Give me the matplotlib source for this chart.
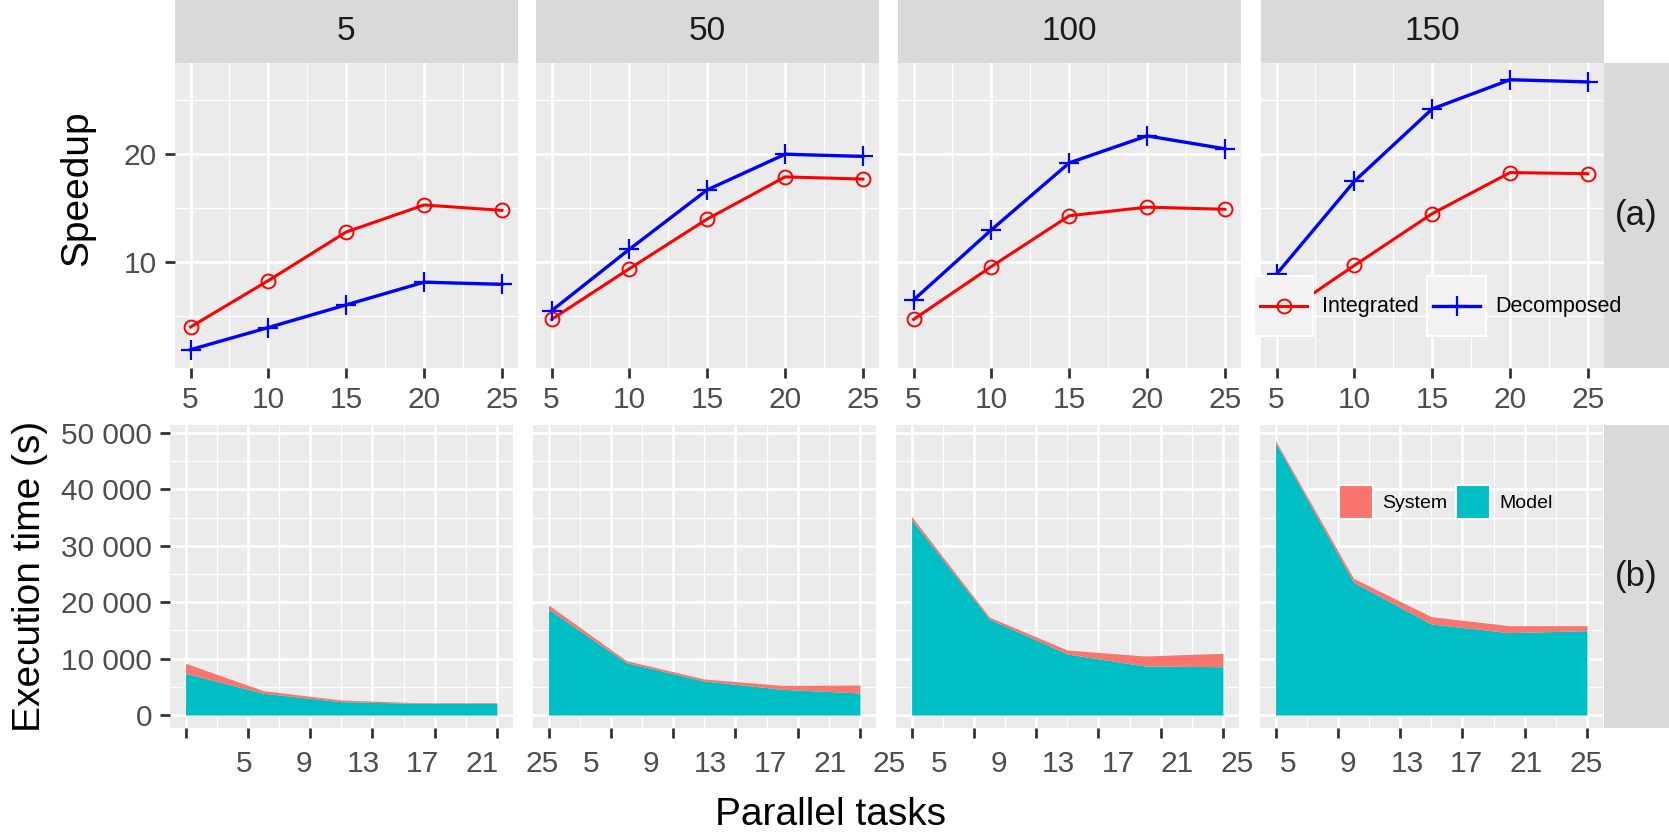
import matplotlib
matplotlib.use("Agg")
import matplotlib.pyplot as plt
from matplotlib.patches import Patch, Rectangle
from matplotlib.legend_handler import HandlerBase
from matplotlib.lines import Line2D

plt.rcParams['font.family'] = ['Liberation Sans', 'DejaVu Sans']

# ---------------- data ----------------
panels = ['5', '50', '100', '150']
tasks = [5, 10, 15, 20, 25]

speedup_integrated = {
    '5':   [4.0, 8.3, 12.8, 15.3, 14.8],
    '50':  [4.7, 9.4, 14.0, 17.9, 17.7],
    '100': [4.7, 9.6, 14.3, 15.1, 14.9],
    '150': [4.8, 9.7, 14.5, 18.3, 18.2],
}
speedup_decomposed = {
    '5':   [1.9, 3.95, 6.05, 8.15, 7.95],
    '50':  [5.5, 11.2, 16.7, 20.0, 19.8],
    '100': [6.5, 13.0, 19.2, 21.7, 20.5],
    '150': [8.9, 17.5, 24.2, 26.9, 26.7],
}
time_model = {
    '5':   [7390, 3850, 2360, 2070, 2070],
    '50':  [18740, 9270, 6030, 4560, 3900],
    '100': [34600, 17000, 10820, 8690, 8560],
    '150': [48280, 23530, 16130, 14600, 14950],
}
time_total = {
    '5':   [9170, 4310, 2660, 2180, 2180],
    '50':  [19500, 9630, 6380, 5250, 5320],
    '100': [35200, 17350, 11520, 10460, 10940],
    '150': [48630, 24230, 17430, 15840, 15840],
}
bottom_ticks = [5, 9, 13, 17, 21, 25]
bottom_tick_labels = ['5', '9', '13', '17', '21', '25']
top_ticks = [5, 10, 15, 20, 25]
speed_yticks = [10, 20]
time_yticks = [0, 10000, 20000, 30000, 40000, 50000]

# ---------------- style ----------------
W, H = 1669, 833
fig = plt.figure(figsize=(W / 100, H / 100), dpi=100)
PANEL_BG = '#EBEBEB'
STRIP_BG = '#D9D9D9'
TICK_COL = '#333333'
LAB_COL = '#4D4D4D'
RED = '#FF0000'
BLUE = '#0000FF'
TEAL = '#00BFC4'
SALMON = '#F8766D'
TICK_FS = 21.5


def px_axes(left, top, width, height):
    return fig.add_axes([left / W, 1 - (top + height) / H, width / W, height / H])


def style_axes(ax):
    ax.set_facecolor(PANEL_BG)
    for s in ax.spines.values():
        s.set_visible(False)
    ax.grid(which='major', color='white', lw=1.9)
    ax.grid(which='minor', color='white', lw=0.9)
    ax.set_axisbelow(True)
    ax.tick_params(which='major', length=7, width=2, color=TICK_COL,
                   labelsize=TICK_FS, labelcolor=LAB_COL, pad=6)
    ax.tick_params(which='minor', length=0)


class KeyHandler(HandlerBase):
    """ggplot-like legend key: grey box with a centred line + marker."""

    def create_artists(self, legend, orig_handle, xdescent, ydescent,
                       width, height, fontsize, trans):
        x0, y0 = -xdescent, -ydescent
        yc = y0 + height / 2
        inset = 0.1 * width
        rect = Rectangle((x0, y0), width, height, facecolor='#F2F2F2',
                         edgecolor='white', lw=1.5, transform=trans)
        line = Line2D([x0 + inset, x0 + width - inset], [yc, yc],
                      color=orig_handle.get_color(), lw=orig_handle.get_linewidth(),
                      transform=trans)
        mk = Line2D([x0 + width / 2], [yc], linestyle='none',
                    marker=orig_handle.get_marker(),
                    markersize=orig_handle.get_markersize(),
                    markeredgewidth=orig_handle.get_markeredgewidth(),
                    markerfacecolor=orig_handle.get_markerfacecolor(),
                    markeredgecolor=orig_handle.get_markeredgecolor(),
                    transform=trans)
        return [rect, line, mk]


top_lefts = [175, 536, 898, 1261]
bot_lefts = [170, 533, 896, 1260]
PW = 342.5
TOP_Y, TOP_H = 63, 305
BOT_Y, BOT_H = 425, 303

line_handles = []
for k, p in enumerate(panels):
    # strip
    sax = px_axes(top_lefts[k], 0, PW, TOP_Y)
    sax.set_facecolor(STRIP_BG)
    sax.set_xticks([]); sax.set_yticks([])
    for s in sax.spines.values():
        s.set_visible(False)
    sax.text(0.5, 0.5, p, ha='center', va='center', fontsize=24,
             color='#1A1A1A', transform=sax.transAxes)

    # top panel: speedup
    ax = px_axes(top_lefts[k], TOP_Y, PW, TOP_H)
    style_axes(ax)
    l1, = ax.plot(tasks, speedup_integrated[p], color=RED, lw=2.2, marker='o',
                  mfc='none', mec=RED, ms=10, mew=1.4, label='Integrated')
    l2, = ax.plot(tasks, speedup_decomposed[p], color=BLUE, lw=2.4, marker='+',
                  mec=BLUE, mfc=BLUE, ms=15, mew=1.6, label='Decomposed')
    line_handles = [l1, l2]
    ax.set_xlim(4, 26)
    ax.set_ylim(0.2, 28.45)
    ax.set_xticks(top_ticks)
    ax.set_xticks([7.5, 12.5, 17.5, 22.5], minor=True)
    ax.set_yticks(speed_yticks)
    ax.set_yticks([5, 15, 25], minor=True)
    if k > 0:
        ax.tick_params(axis='y', which='both', left=False, labelleft=False)

    # bottom panel: execution time
    bx = px_axes(bot_lefts[k], BOT_Y, PW, BOT_H)
    style_axes(bx)
    bx.fill_between(tasks, 0, time_model[p], color=TEAL, lw=0)
    bx.fill_between(tasks, time_model[p], time_total[p], color=SALMON, lw=0)
    bx.set_xlim(4, 26)
    bx.set_ylim(-2300, 51400)
    bx.set_xticks(bottom_ticks)
    bx.set_xticks([7, 11, 15, 19, 23], minor=True)
    bx.tick_params(axis='x', labelbottom=False)
    bx.set_yticks(time_yticks)
    bx.set_yticklabels(['{:,}'.format(v).replace(',', ' ') for v in time_yticks])
    bx.set_yticks([5000, 15000, 25000, 35000, 45000], minor=True)
    if k > 0:
        bx.tick_params(axis='y', which='both', left=False, labelleft=False)
    # tick labels of the bottom row are drawn offset from their ticks
    shift = 0.79 + 0.985 * (3 - k)
    for j, lab in enumerate(bottom_tick_labels):
        xpos = bottom_ticks[0] + shift + (bottom_ticks[j] - bottom_ticks[0]) * 0.957
        bx.annotate(lab, xy=(xpos, 0), xycoords=('data', 'axes fraction'),
                    xytext=(0, -16), textcoords='offset points',
                    ha='center', va='top', fontsize=TICK_FS, color=LAB_COL,
                    annotation_clip=False)

# right strips
for top, h, lab in [(TOP_Y, TOP_H, '(a)'), (BOT_Y, BOT_H, '(b)')]:
    rax = px_axes(1604, top, W - 1604, h)
    rax.set_facecolor(STRIP_BG)
    rax.set_xticks([]); rax.set_yticks([])
    for s in rax.spines.values():
        s.set_visible(False)
    rax.text(0.5, 0.5, lab, ha='center', va='center', fontsize=25,
             color='#1A1A1A', transform=rax.transAxes)

# axis titles
fig.text(77 / W, 1 - 188 / H, 'Speedup', rotation=90, ha='center', va='center',
         fontsize=28, color='black')
fig.text(30 / W, 1 - 576 / H, 'Execution time (s)', rotation=90, ha='center',
         va='center', fontsize=28, color='black')
fig.text(830 / W, 1 - 815 / H, 'Parallel tasks', ha='center', va='center',
         fontsize=28, color='black')

# legends
fig.legend(line_handles, ['Integrated', 'Decomposed'],
           handler_map={Line2D: KeyHandler()},
           ncol=2, loc='center left', bbox_to_anchor=(1254 / W, 1 - 306 / H),
           frameon=False, fontsize=15.5, handlelength=2.75, handleheight=3.85,
           handletextpad=0.42, columnspacing=0.37, borderpad=0, borderaxespad=0)

fig.legend([Patch(facecolor=SALMON, edgecolor='white', lw=1.5),
            Patch(facecolor=TEAL, edgecolor='white', lw=1.5)],
           ['System', 'Model'], ncol=2, loc='center left',
           bbox_to_anchor=(1339 / W, 1 - 502 / H), frameon=False, fontsize=14,
           handlelength=1.75, handleheight=2.32, handletextpad=0.46,
           columnspacing=0.46, borderpad=0, borderaxespad=0)

fig.savefig('out.png', dpi=100)
